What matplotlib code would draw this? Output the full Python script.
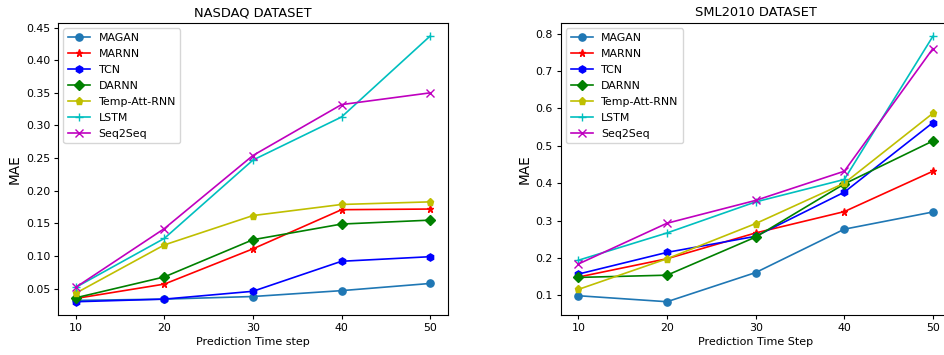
import matplotlib
matplotlib.use("Agg")
import matplotlib.pyplot as plt

steps = [10, 20, 30, 40, 50]
models = ["MAGAN", "MARNN", "TCN", "DARNN", "Temp-Att-RNN", "LSTM", "Seq2Seq"]
styles = [("C0", "o"), ("r", "*"), ("b", "h"), ("g", "D"), ("y", "p"), ("c", "+"), ("m", "x")]

nasdaq_mae = {
    "MAGAN": [0.032, 0.034, 0.038, 0.047, 0.058],
    "MARNN": [0.035, 0.057, 0.111, 0.171, 0.172],
    "TCN": [0.030, 0.034, 0.046, 0.092, 0.099],
    "DARNN": [0.036, 0.068, 0.125, 0.149, 0.155],
    "Temp-Att-RNN": [0.043, 0.117, 0.162, 0.179, 0.183],
    "LSTM": [0.052, 0.127, 0.247, 0.313, 0.437],
    "Seq2Seq": [0.052, 0.142, 0.254, 0.332, 0.350],
}

sml_mae = {
    "MAGAN": [0.099, 0.083, 0.161, 0.277, 0.323],
    "MARNN": [0.149, 0.198, 0.267, 0.324, 0.432],
    "TCN": [0.157, 0.215, 0.258, 0.376, 0.562],
    "DARNN": [0.148, 0.154, 0.256, 0.398, 0.513],
    "Temp-Att-RNN": [0.116, 0.198, 0.292, 0.400, 0.587],
    "LSTM": [0.194, 0.267, 0.350, 0.410, 0.793],
    "Seq2Seq": [0.184, 0.293, 0.354, 0.432, 0.760],
}

fig = plt.figure(figsize=(9.44, 3.55), dpi=100)
ax1 = fig.add_axes([0.0614, 0.1127, 0.413, 0.8225])
ax2 = fig.add_axes([0.594, 0.1127, 0.413, 0.8225])


def draw(ax, data, title, xlabel, ytick_fmt):
    for name, (col, mk) in zip(models, styles):
        ms = 5.5 if mk in ("+", "x") else 5.2
        ax.plot(steps, data[name], color=col, marker=mk, ms=ms, lw=1.2, label=name)
    ax.set_title(title, fontsize=9.4, pad=5)
    ax.set_xlabel(xlabel, fontsize=8, labelpad=3)
    ax.set_ylabel("MAE", fontsize=9.8, labelpad=3)
    ax.set_xticks(steps)
    ax.tick_params(labelsize=7.9, length=2.8, pad=2.8)
    ax.yaxis.set_major_formatter(plt.FormatStrFormatter(ytick_fmt))
    ax.legend(loc="upper left", fontsize=7.9, labelspacing=0.55)


draw(ax1, nasdaq_mae, "NASDAQ DATASET", "Prediction Time step", "%.2f")
draw(ax2, sml_mae, "SML2010 DATASET", "Prediction Time Step", "%.1f")
ax1.set_yticks([0.05, 0.10, 0.15, 0.20, 0.25, 0.30, 0.35, 0.40, 0.45])
ax2.set_yticks([0.1, 0.2, 0.3, 0.4, 0.5, 0.6, 0.7, 0.8])
ax1.set_ylim(0.0097, 0.457)
ax2.set_ylim(0.0475, 0.8285)

fig.savefig("out.png", dpi=100)
